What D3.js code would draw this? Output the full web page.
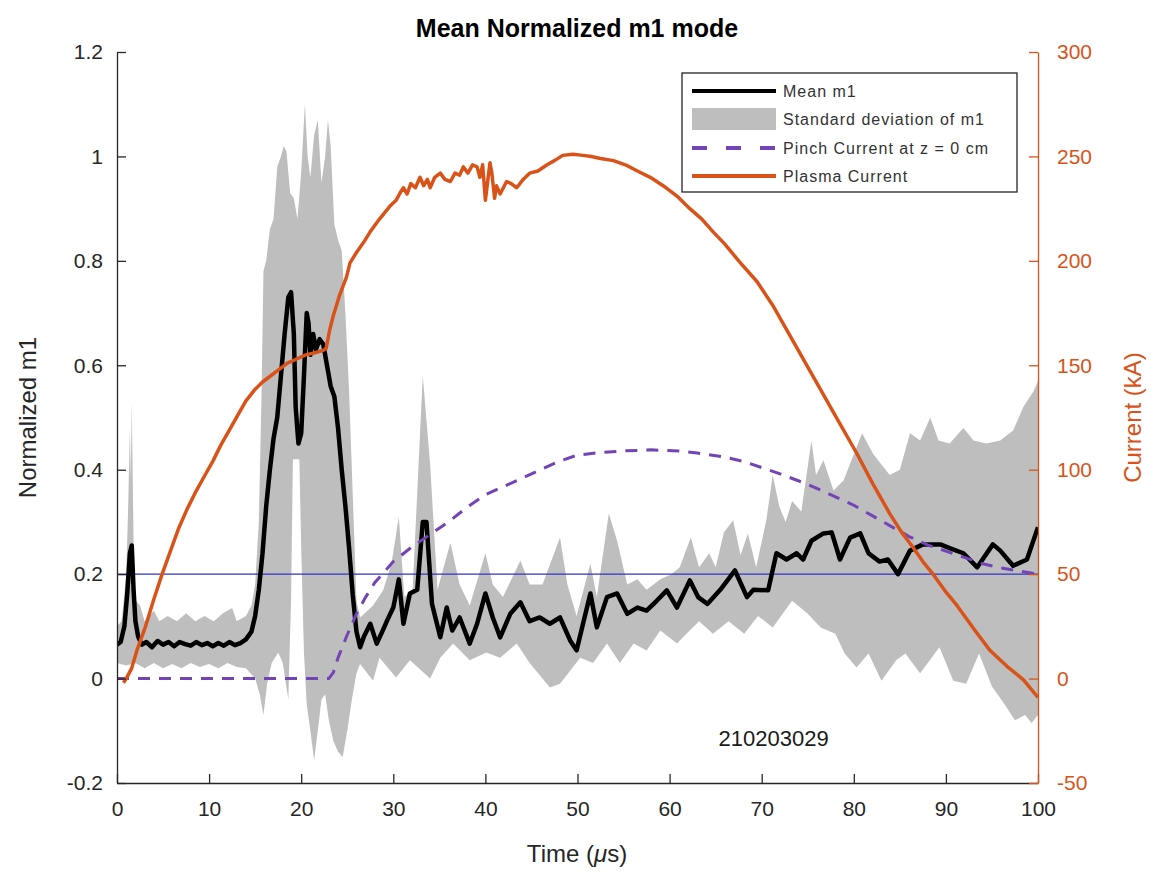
<!DOCTYPE html>
<html>
<head>
<meta charset="utf-8">
<script src="https://cdn.jsdelivr.net/npm/d3@7"></script>
<style>
  body { margin: 0; background: #fff; }
  text { font-family: "Liberation Sans", Arial, sans-serif; }
</style>
</head>
<body>
<script>
// values (time in us)
var meanM1 = [
  [0, 0.065], [0.4, 0.07], [0.8, 0.10], [1.1, 0.16], [1.4, 0.24], [1.6, 0.255], [1.8, 0.17], [2.0, 0.11],
  [2.3, 0.08], [2.7, 0.065], [3.2, 0.07], [3.8, 0.06], [4.4, 0.072], [5.0, 0.065], [5.6, 0.07], [6.2, 0.062],
  [6.8, 0.07], [7.4, 0.066], [8.0, 0.063], [8.6, 0.07], [9.2, 0.064], [9.8, 0.068], [10.4, 0.062], [11.0, 0.068],
  [11.6, 0.063], [12.2, 0.07], [12.8, 0.064], [13.4, 0.068], [14.0, 0.075], [14.6, 0.09], [15.0, 0.12], [15.4, 0.17],
  [15.8, 0.24], [16.2, 0.33], [16.6, 0.40], [17.0, 0.46], [17.4, 0.50], [17.8, 0.58], [18.2, 0.66], [18.6, 0.73],
  [18.9, 0.74], [19.2, 0.66], [19.4, 0.52], [19.7, 0.45], [20.0, 0.47], [20.3, 0.58], [20.6, 0.70], [20.8, 0.68],
  [21.0, 0.62], [21.3, 0.66], [21.6, 0.63], [22.0, 0.65], [22.4, 0.64], [22.8, 0.60], [23.2, 0.56], [23.6, 0.54],
  [24.0, 0.48], [24.4, 0.40], [24.8, 0.33], [25.2, 0.25], [25.6, 0.16], [26.0, 0.09], [26.4, 0.06], [26.8, 0.08],
  [27.5, 0.105], [28.2, 0.067], [28.8, 0.09], [29.3, 0.11], [30.0, 0.136], [30.6, 0.19], [31.1, 0.105], [31.8, 0.163],
  [32.6, 0.17], [33.2, 0.30], [33.6, 0.30], [34.2, 0.143], [35.1, 0.079], [35.8, 0.136], [36.4, 0.092], [37.2, 0.117],
  [38.3, 0.067], [39.1, 0.105], [40.0, 0.163], [40.8, 0.117], [41.6, 0.079], [42.7, 0.124], [43.8, 0.146], [44.8, 0.11],
  [45.9, 0.117], [47.0, 0.105], [48.1, 0.117], [49.2, 0.073], [49.9, 0.054], [50.6, 0.105], [51.4, 0.163], [52.1, 0.098],
  [53.2, 0.156], [54.3, 0.163], [55.4, 0.124], [56.5, 0.136], [57.5, 0.13], [58.6, 0.149], [59.7, 0.169], [60.8, 0.136],
  [62.2, 0.188], [63.1, 0.156], [64.1, 0.143], [65.5, 0.17], [67.1, 0.207], [68.4, 0.156], [69.1, 0.17], [70.7, 0.169],
  [71.6, 0.24], [72.7, 0.228], [73.8, 0.24], [74.5, 0.228], [75.4, 0.264], [76.7, 0.278], [77.6, 0.28], [78.5, 0.228],
  [79.6, 0.27], [80.7, 0.278], [81.6, 0.24], [82.8, 0.224], [83.7, 0.228], [84.8, 0.20], [86.1, 0.245], [87.5, 0.257],
  [89.4, 0.257], [90.4, 0.25], [91.9, 0.24], [93.4, 0.213], [95.1, 0.257], [95.9, 0.245], [97.3, 0.216], [98.8, 0.228],
  [100, 0.29]
];

// upper edge of the std band (mean + sd)
var sdUpper = [
  [0, 0.10], [0.5, 0.11], [1.0, 0.2], [1.2, 0.32], [1.4, 0.48], [1.5, 0.38], [1.6, 0.53], [1.8, 0.26], [2.0, 0.15],
  [2.5, 0.14], [3.0, 0.11], [4.0, 0.13], [4.6, 0.11], [5.5, 0.12], [6.5, 0.11], [7.5, 0.125], [8.5, 0.11], [9.5, 0.12],
  [10.5, 0.11], [11.5, 0.125], [12.5, 0.135], [13.0, 0.11], [14.0, 0.12], [14.6, 0.14], [15.0, 0.18], [15.4, 0.30],
  [15.7, 0.55], [15.9, 0.78], [16.2, 0.80], [16.6, 0.86], [17.0, 0.88], [17.4, 0.98], [17.8, 1.0], [18.1, 1.02],
  [18.4, 1.01], [18.8, 0.93], [19.2, 0.92], [19.6, 0.88], [20.0, 0.97], [20.4, 1.10], [20.7, 1.0], [21.0, 0.96],
  [21.4, 1.04], [21.8, 1.07], [22.2, 0.95], [22.6, 1.00], [22.9, 1.07], [23.2, 1.02], [23.6, 0.87], [24.0, 0.84],
  [24.4, 0.82], [24.8, 0.70], [25.2, 0.55], [25.6, 0.35], [26.0, 0.15], [26.4, 0.117], [27.8, 0.14], [28.9, 0.169],
  [29.8, 0.22], [30.6, 0.31], [31.2, 0.156], [32.1, 0.17], [33.2, 0.58], [34.0, 0.41], [34.8, 0.17], [36.2, 0.26],
  [37.2, 0.18], [38.3, 0.14], [40.0, 0.24], [40.8, 0.18], [41.9, 0.156], [43.8, 0.226], [44.8, 0.18], [46.2, 0.18],
  [48.1, 0.27], [48.9, 0.18], [49.9, 0.12], [51.4, 0.22], [52.1, 0.156], [53.4, 0.316], [54.3, 0.264], [55.4, 0.18],
  [56.5, 0.19], [57.5, 0.17], [59.0, 0.19], [60.2, 0.20], [61.1, 0.213], [62.3, 0.27], [63.2, 0.213], [64.3, 0.24],
  [65.0, 0.213], [65.9, 0.28], [66.9, 0.303], [67.7, 0.236], [68.5, 0.278], [69.4, 0.213], [70.5, 0.303], [71.2, 0.39],
  [71.9, 0.33], [72.6, 0.30], [73.3, 0.34], [74.3, 0.32], [75.4, 0.456], [75.9, 0.39], [76.7, 0.418], [77.8, 0.36],
  [78.9, 0.38], [80.3, 0.443], [80.9, 0.47], [82.1, 0.43], [83.9, 0.39], [85.0, 0.40], [86.1, 0.47], [87.2, 0.456],
  [88.3, 0.50], [89.2, 0.456], [90.4, 0.45], [91.9, 0.48], [93.0, 0.456], [94.4, 0.45], [95.9, 0.456], [97.3, 0.475],
  [98.4, 0.52], [99.5, 0.55], [100, 0.57]
];

// lower edge of the std band (mean - sd)
var sdLower = [
  [0, 0.03], [1.0, 0.025], [2.0, 0.03], [3.0, 0.02], [4.0, 0.03], [5.0, 0.02], [6.0, 0.028], [7.0, 0.02], [8.0, 0.03],
  [9.0, 0.022], [10.0, 0.028], [11.0, 0.02], [12.0, 0.03], [13.0, 0.022], [14.0, 0.02], [15.0, 0.0], [15.5, -0.03],
  [15.9, -0.07], [16.3, -0.01], [16.8, 0.03], [17.5, 0.05], [18.0, 0.03], [18.6, -0.04], [18.9, 0.15], [19.1, 0.42],
  [19.8, 0.42], [20.0, 0.25], [20.3, 0.05], [20.6, -0.05], [21.0, -0.1],
  [21.4, -0.157], [21.8, -0.1], [22.2, -0.04], [22.6, -0.03], [23.0, -0.08], [23.5, -0.12], [24.0, -0.14],
  [24.5, -0.15], [25.0, -0.1], [25.5, -0.04], [26.0, 0.01], [26.4, 0.028], [27.8, -0.004], [28.5, 0.04], [30.3, 0.002],
  [31.8, 0.035], [34.0, 0.0], [35.1, 0.04], [36.5, 0.067], [38.3, 0.035], [40.1, 0.05], [41.6, 0.04], [43.4, 0.067],
  [44.8, 0.03], [46.2, 0.0], [47.0, -0.017], [48.1, -0.01], [49.2, 0.015], [50.3, 0.04], [51.7, 0.03], [53.2, 0.067],
  [54.6, 0.03], [56.1, 0.067], [57.5, 0.054], [59.0, 0.092], [60.8, 0.067], [61.5, 0.08], [63.2, 0.11], [64.7, 0.086],
  [66.4, 0.11], [68.1, 0.086], [69.6, 0.12], [71.2, 0.098], [73.3, 0.149], [75.0, 0.124], [76.4, 0.098], [78.0, 0.086],
  [79.0, 0.048], [80.3, 0.021], [81.6, 0.048], [83.0, -0.004], [84.6, 0.035], [85.6, 0.048], [87.2, 0.01], [89.3, 0.06],
  [90.8, -0.004], [92.2, -0.01], [93.6, 0.048], [95.0, -0.015], [96.4, -0.05], [97.5, -0.08], [98.6, -0.07],
  [99.3, -0.085], [100, -0.07]
];

// kA, right axis
var pinchCurrent = [
  [0, 0], [23, 0], [23.5, 3], [24, 10], [25, 21], [26, 31], [27, 39], [28, 46], [29, 51], [30, 56], [32, 63], [34, 69],
  [36, 75], [38, 82], [40, 88], [42, 92], [44, 96], [46, 100], [48, 104], [50, 107], [52, 108], [55, 109], [58, 109.5],
  [61, 109], [63, 108], [66, 106], [68, 104], [70, 101], [72, 98], [75, 93], [78, 87], [80, 83], [82, 78], [84, 73],
  [86, 68], [88, 64], [90, 61], [92, 58], [94, 55], [96, 53], [98, 51.5], [100, 50]
];

var plasmaCurrent = [
  [0.7, -2], [1.0, 0], [1.6, 5], [2.2, 14], [3.1, 25], [4.0, 38], [4.9, 50], [5.8, 61], [6.7, 72], [7.6, 81], [8.5, 89],
  [9.5, 97], [10.4, 104], [11.3, 112], [12.2, 119], [13.1, 126], [14.0, 133], [14.9, 138], [15.8, 142], [16.7, 145],
  [17.6, 148], [18.5, 151], [19.5, 153], [20.5, 155], [21.5, 156], [22.3, 157], [22.7, 158], [23.1, 167], [23.5, 174],
  [24.2, 184], [24.9, 192], [25.3, 199], [26.0, 204], [26.8, 209], [27.5, 214], [28.5, 220], [29.6, 226], [30.3, 229],
  [30.8, 233], [31.1, 235], [31.5, 232], [31.9, 237], [32.4, 235], [32.9, 240], [33.3, 236], [33.7, 239], [34.0, 235],
  [34.5, 240], [35.1, 242], [35.6, 239], [36.2, 238], [36.7, 242], [37.2, 241], [37.6, 245], [38.1, 242], [38.6, 246],
  [39.1, 245], [39.4, 240], [39.7, 246], [40.0, 229], [40.3, 240], [40.5, 247], [40.7, 242], [41.0, 230], [41.2, 236],
  [41.6, 232], [42.3, 238], [42.8, 237], [43.4, 235], [44.1, 239], [44.8, 242], [45.7, 243], [46.7, 246], [47.5, 248],
  [48.4, 250.5], [49.5, 251], [50.6, 250.5], [51.5, 250], [52.5, 249], [53.9, 248], [55.2, 246], [56.5, 243],
  [57.9, 240], [59.3, 236], [60.8, 231], [62.2, 225], [63.5, 220], [64.7, 214], [66.0, 208], [67.5, 200], [69.5, 190],
  [71.3, 178], [73.1, 164], [74.9, 150], [76.7, 136], [78.5, 122], [80.3, 108], [82.1, 93], [83.9, 79], [85.2, 70],
  [86.4, 63], [87.5, 56], [88.6, 50], [89.9, 42], [91.2, 35], [93.0, 24], [94.8, 13.4], [96.6, 6], [98.4, -0.5], [100, -9]
];

var threshold = 0.2;
var xTicks = [0, 10, 20, 30, 40, 50, 60, 70, 80, 90, 100];
var leftTicks = [-0.2, 0, 0.2, 0.4, 0.6, 0.8, 1, 1.2];
var rightTicks = [-50, 0, 50, 100, 150, 200, 250, 300];
var legendLabels = ["Mean m1", "Standard deviation of m1", "Pinch Current at z = 0 cm", "Plasma Current"];
var shotLabel = "210203029";

var W = 1153, H = 873;
var margin = {top: 52, right: 115, bottom: 90, left: 117};
var orange = "#d95319", purple = "#7244b6", gray = "#bebebe";

var svg = d3.select("body").append("svg").attr("width", W).attr("height", H);

var x = d3.scaleLinear().domain([0, 100]).range([margin.left, W - margin.right]);
var yL = d3.scaleLinear().domain([-0.2, 1.2]).range([H - margin.bottom, margin.top]);
var yR = d3.scaleLinear().domain([-50, 300]).range([H - margin.bottom, margin.top]);

svg.append("clipPath").attr("id", "clip").append("rect")
    .attr("x", x(0)).attr("y", yL(1.2))
    .attr("width", x(100) - x(0)).attr("height", yL(-0.2) - yL(1.2));

var plot = svg.append("g").attr("clip-path", "url(#clip)");

// std band as one closed polygon: upper edge forward, lower edge back
var band = sdUpper.concat(sdLower.slice().reverse());
plot.append("path")
    .attr("d", d3.line().x(function (d) { return x(d[0]); }).y(function (d) { return yL(d[1]); })(band) + "Z")
    .attr("fill", gray).attr("stroke", "none");

plot.append("line")
    .attr("x1", x(0)).attr("x2", x(100))
    .attr("y1", yL(threshold)).attr("y2", yL(threshold))
    .attr("stroke", "#3232c8").attr("stroke-width", 1.3);

var lineL = d3.line().x(function (d) { return x(d[0]); }).y(function (d) { return yL(d[1]); });
var lineR = d3.line().x(function (d) { return x(d[0]); }).y(function (d) { return yR(d[1]); });

plot.append("path").attr("d", lineL(meanM1))
    .attr("fill", "none").attr("stroke", "#000").attr("stroke-width", 4.5).attr("stroke-linejoin", "round");

plot.append("path").attr("d", lineR(pinchCurrent))
    .attr("fill", "none").attr("stroke", purple).attr("stroke-width", 3).attr("stroke-dasharray", "12,9");

plot.append("path").attr("d", lineR(plasmaCurrent))
    .attr("fill", "none").attr("stroke", orange).attr("stroke-width", 3.5).attr("stroke-linejoin", "round");

// axes, ticks inward like matlab; plain hyphen for negatives
var fs = "21px";
var fmt = function (d) { return String(+(+d).toFixed(1)); };
var gx = svg.append("g").attr("transform", "translate(0," + yL(-0.2) + ")")
    .call(d3.axisBottom(x).tickValues(xTicks).tickSizeInner(-9).tickSizeOuter(0).tickPadding(18).tickFormat(fmt));
var gl = svg.append("g").attr("transform", "translate(" + x(0) + ",0)")
    .call(d3.axisLeft(yL).tickValues(leftTicks).tickSizeInner(-9).tickSizeOuter(0).tickPadding(14).tickFormat(fmt));
var gr = svg.append("g").attr("transform", "translate(" + x(100) + ",0)")
    .call(d3.axisRight(yR).tickValues(rightTicks).tickSizeInner(-9).tickSizeOuter(0).tickPadding(19).tickFormat(fmt));

[gx, gl].forEach(function (g) {
    g.select(".domain").attr("stroke", "#262626").attr("stroke-width", 1.3);
    g.selectAll(".tick line").attr("stroke", "#262626").attr("stroke-width", 1.3);
    g.selectAll("text").attr("font-size", fs).attr("fill", "#262626").attr("font-family", "Liberation Sans, Arial");
});
gr.select(".domain").attr("stroke", orange).attr("stroke-width", 1.3);
gr.selectAll(".tick line").attr("stroke", orange).attr("stroke-width", 1.3);
gr.selectAll("text").attr("font-size", fs).attr("fill", orange).attr("font-family", "Liberation Sans, Arial");

// labels
svg.append("text").attr("x", 577).attr("y", 37).attr("text-anchor", "middle")
    .attr("font-size", "25px").attr("font-weight", "bold").attr("fill", "#000")
    .text("Mean Normalized m1 mode");
var xl = svg.append("text").attr("x", 577).attr("y", 862).attr("text-anchor", "middle")
    .attr("font-size", "24px").attr("fill", "#262626");
xl.append("tspan").text("Time (");
xl.append("tspan").attr("font-style", "italic").text("\u03bc");
xl.append("tspan").text("s)");
svg.append("text").attr("transform", "translate(36," + ((yL(1.2) + yL(-0.2)) / 2) + ") rotate(-90)")
    .attr("text-anchor", "middle").attr("font-size", "24px").attr("fill", "#262626")
    .text("Normalized m1");
svg.append("text").attr("transform", "translate(1141," + ((yR(300) + yR(-50)) / 2) + ") rotate(-90)")
    .attr("text-anchor", "middle").attr("font-size", "24px").attr("fill", orange)
    .text("Current (kA)");
svg.append("text").attr("x", x(71.3)).attr("y", yL(-0.13)).attr("text-anchor", "middle")
    .attr("font-size", "22px").attr("fill", "#1a1a1a")
    .text(shotLabel);

// legend
var lg = svg.append("g").attr("transform", "translate(682,73)");
lg.append("rect").attr("width", 335).attr("height", 119)
    .attr("fill", "#fff").attr("stroke", "#262626").attr("stroke-width", 1.3);
var rowY = [18, 46, 75, 103];
lg.append("line").attr("x1", 10).attr("x2", 94).attr("y1", rowY[0]).attr("y2", rowY[0])
    .attr("stroke", "#000").attr("stroke-width", 4);
lg.append("rect").attr("x", 10).attr("y", rowY[1] - 11).attr("width", 84).attr("height", 22).attr("fill", gray);
lg.append("line").attr("x1", 10).attr("x2", 94).attr("y1", rowY[2]).attr("y2", rowY[2])
    .attr("stroke", purple).attr("stroke-width", 4).attr("stroke-dasharray", "15,19");
lg.append("line").attr("x1", 10).attr("x2", 94).attr("y1", rowY[3]).attr("y2", rowY[3])
    .attr("stroke", orange).attr("stroke-width", 4);
lg.selectAll("text.lab").data(legendLabels).enter().append("text")
    .attr("class", "lab")
    .attr("x", 101).attr("y", function (d, i) { return rowY[i] + 6; })
    .attr("font-size", "16px").attr("letter-spacing", "1px").attr("fill", "#333")
    .text(function (d) { return d; });
</script>
</body>
</html>
